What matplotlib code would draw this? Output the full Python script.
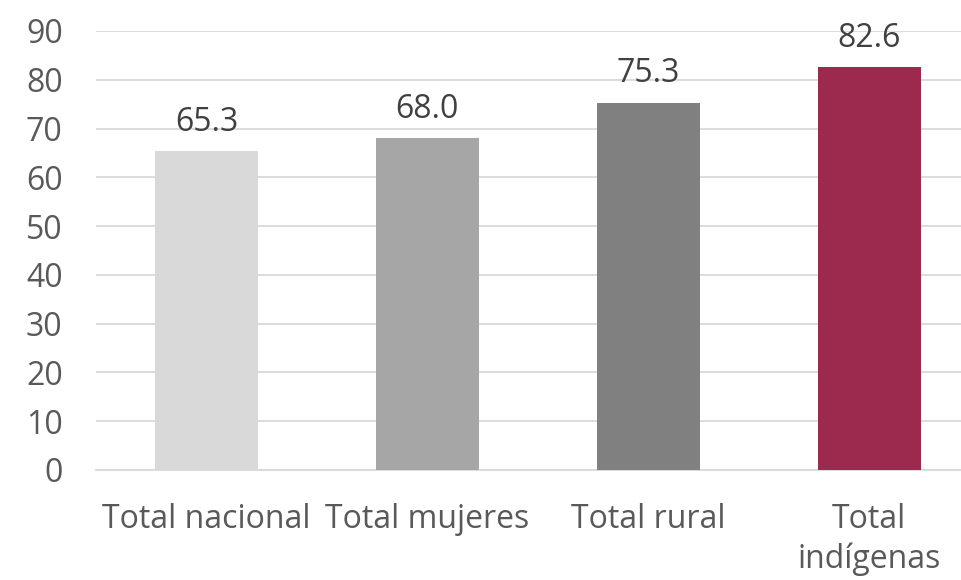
import matplotlib.pyplot as plt

categories = ["Total nacional", "Total mujeres", "Total rural", "Total\nindígenas"]
values = [65.3, 68.0, 75.3, 82.6]
colors = ["#D9D9D9", "#A6A6A6", "#808080", "#9B2A4E"]
yticks = [0, 10, 20, 30, 40, 50, 60, 70, 80, 90]

plt.rcParams["font.family"] = ["Open Sans", "DejaVu Sans"]
txt = "#595959"
fs = 23

fig = plt.figure(figsize=(9.62, 5.8), dpi=100)
ax = fig.add_axes([96 / 962, 1 - 470 / 580, 1 - 96 / 962, 439 / 580])

x = range(len(categories))
bars = ax.bar(x, values, width=0.466, color=colors, zorder=3)
for b, v in zip(bars, values):
    ax.annotate(f"{v:.1f}", (b.get_x() + b.get_width() / 2, v),
                xytext=(0, 9), textcoords="offset points",
                ha="center", va="bottom", fontsize=fs, color="#404040")

ax.set_ylim(0, 90)
ax.set_xlim(-0.5, 3.42)
ax.set_yticks(yticks)
ax.set_xticks(list(x))
ax.set_xticklabels(categories, linespacing=1.25)
ax.yaxis.grid(True, color="#D9D9D9", linewidth=1.3, zorder=0)
ax.set_axisbelow(True)
for s in ["left", "right", "top"]:
    ax.spines[s].set_visible(False)
ax.spines["bottom"].set_color("#D9D9D9")
ax.spines["bottom"].set_linewidth(1.3)
ax.tick_params(axis="both", length=0, labelsize=fs, labelcolor=txt)
ax.tick_params(axis="y", pad=24)
ax.tick_params(axis="x", pad=24)

fig.savefig("out.png", dpi=100)
